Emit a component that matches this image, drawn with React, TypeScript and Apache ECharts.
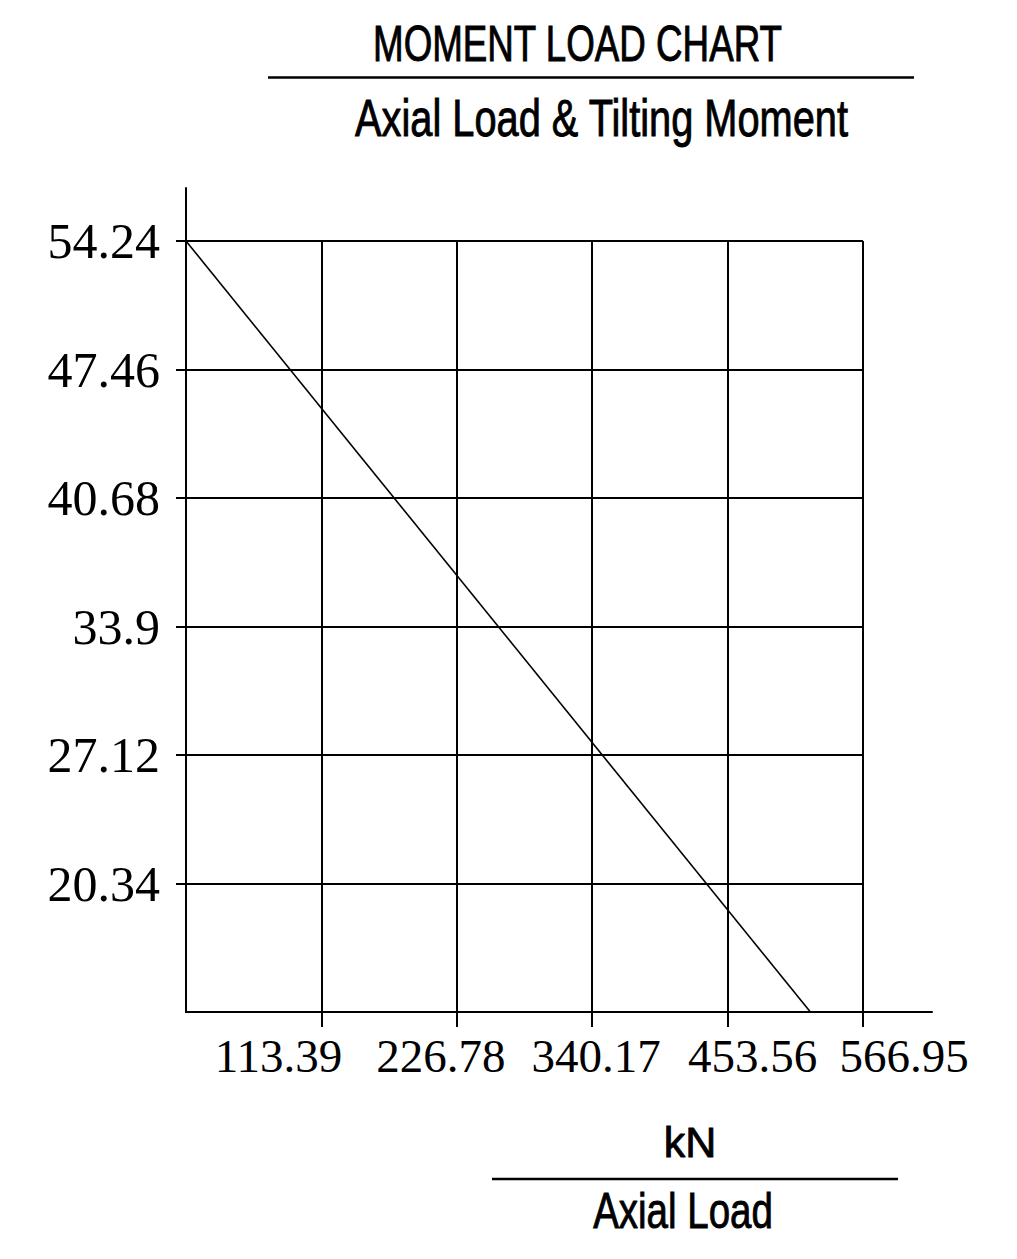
import React, { useEffect, useRef } from "react";
import * as echarts from "echarts";

// Axis ticks (labels)
const axialLoadTicks = [113.39, 226.78, 340.17, 453.56, 566.95];
const momentTicks = [20.34, 27.12, 33.9, 40.68, 47.46, 54.24];

// Moment load curve: axial load (kN) vs tilting moment
const axialLoad = [0, 522.9];
const tiltingMoment = [54.24, 13.56];

const X_MIN = 0;
const X_MAX = 566.95;
const X_STEP = 113.39;
const Y_MIN = 13.56;
const Y_MAX = 54.24;
const Y_STEP = 6.78;

const TITLE_FONT = "Liberation Sans, Arial, sans-serif";
const TICK_FONT = "Liberation Serif, Times New Roman, serif";

// horizontal shift (px) of each x tick label relative to its tick, as in the reference
const xLabelShift = [-43, -16, 4, 25, 41];

export default function App() {
  const ref = useRef<HTMLDivElement>(null);

  useEffect(() => {
    if (!ref.current) return;
    const chart = echarts.init(ref.current, undefined, { renderer: "svg" });
    const black = "#000";
    const lineData = axialLoad.map((x, i) => [x, tiltingMoment[i]]);

    const titleText = (text: string, x: number, y: number, size: number, scaleX: number) => ({
      type: "text",
      x,
      y,
      scaleX,
      style: {
        text,
        font: `${size}px ${TITLE_FONT}`,
        fill: black,
        stroke: black,
        lineWidth: 0.9,
        textAlign: "center",
        textVerticalAlign: "middle",
      },
    });

    const xRich: Record<string, any> = {};
    xLabelShift.forEach((s, i) => {
      const pad = Math.abs(s) * 2;
      xRich["s" + i] = {
        fontFamily: TICK_FONT,
        fontSize: 47,
        color: black,
        padding: s < 0 ? [0, pad, 0, 0] : [0, 0, 0, pad],
      };
    });

    chart.setOption({
      animation: false,
      backgroundColor: "#fff",
      grid: [
        { left: 186, right: 154, top: 241, bottom: 247, containLabel: false },
        { left: 186, right: 85, top: 188, bottom: 247, containLabel: false },
      ],
      xAxis: [
        {
          gridIndex: 0,
          type: "value",
          min: X_MIN,
          max: X_MAX,
          interval: X_STEP,
          axisLine: { show: true, onZero: false, lineStyle: { color: black, width: 2 } },
          axisTick: {
            show: true,
            length: 15,
            inside: false,
            customValues: axialLoadTicks,
            lineStyle: { color: black, width: 2 },
          },
          axisLabel: {
            show: true,
            customValues: axialLoadTicks,
            hideOverlap: false,
            showMinLabel: true,
            showMaxLabel: true,
            margin: 20,
            fontFamily: TICK_FONT,
            fontSize: 47,
            color: black,
            formatter: (v: number) => {
              const idx = axialLoadTicks.findIndex((t) => Math.abs(t - v) < 1e-6);
              return idx >= 0 ? `{s${idx}|${v}}` : String(v);
            },
            rich: xRich,
          },
          splitLine: { show: true, lineStyle: { color: black, width: 2 } },
        },
        {
          gridIndex: 1,
          type: "value",
          min: 0,
          max: 1,
          axisLine: { show: true, onZero: false, lineStyle: { color: black, width: 2 } },
          axisTick: { show: false },
          axisLabel: { show: false },
          splitLine: { show: false },
        },
      ],
      yAxis: [
        {
          gridIndex: 0,
          type: "value",
          min: Y_MIN,
          max: Y_MAX,
          interval: Y_STEP,
          axisLine: { show: true, onZero: false, lineStyle: { color: black, width: 2 } },
          axisTick: {
            show: true,
            length: 10,
            inside: false,
            customValues: momentTicks,
            lineStyle: { color: black, width: 2 },
          },
          axisLabel: {
            show: true,
            customValues: momentTicks,
            hideOverlap: false,
            margin: 26,
            fontFamily: TICK_FONT,
            fontSize: 50,
            color: black,
            formatter: (v: number) => String(v),
          },
          splitLine: { show: true, lineStyle: { color: black, width: 2 } },
        },
        {
          gridIndex: 1,
          type: "value",
          min: 0,
          max: 1,
          axisLine: { show: true, onZero: false, lineStyle: { color: black, width: 2 } },
          axisTick: { show: false },
          axisLabel: { show: false },
          splitLine: { show: false },
        },
      ],
      series: [
        {
          type: "line",
          xAxisIndex: 0,
          yAxisIndex: 0,
          data: lineData,
          symbol: "none",
          silent: true,
          lineStyle: { color: black, width: 1.6 },
          z: 5,
        },
      ],
      graphic: [
        titleText("MOMENT LOAD CHART", 577.5, 44.5, 49, 0.75),
        {
          type: "line",
          shape: { x1: 268, y1: 77.5, x2: 914, y2: 77.5 },
          style: { stroke: black, lineWidth: 2.5 },
        },
        titleText("Axial Load & Tilting Moment", 601.5, 118.5, 51, 0.78),
        titleText("kN", 690, 1141.5, 43, 1),
        {
          type: "line",
          shape: { x1: 492, y1: 1179, x2: 898, y2: 1179 },
          style: { stroke: black, lineWidth: 2.5 },
        },
        titleText("Axial Load", 683, 1211, 50, 0.77),
      ],
    });

    return () => {
      chart.dispose();
    };
  }, []);

  return (
    <div
      ref={ref}
      style={{
        position: "absolute",
        left: 0,
        top: 0,
        width: 1017,
        height: 1259,
        background: "#fff",
      }}
    />
  );
}
